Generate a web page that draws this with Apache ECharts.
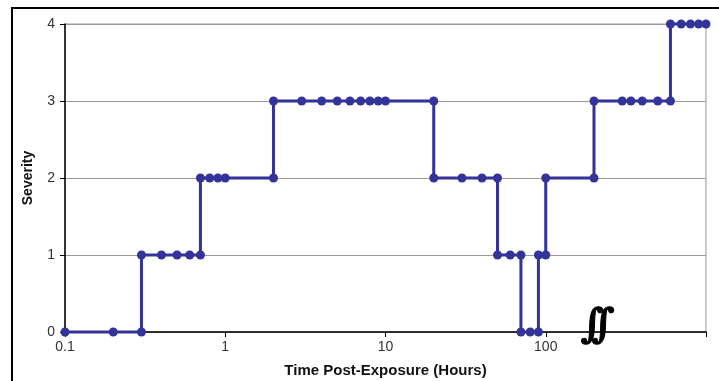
<!DOCTYPE html>
<html>
<head>
<meta charset="utf-8">
<script src="https://cdn.jsdelivr.net/npm/echarts@6/dist/echarts.min.js"></script>
<style>
  html, body { margin: 0; padding: 0; background: #fff; }
  #chart { width: 719px; height: 381px; }
</style>
</head>
<body>
<div id="chart"></div>
<script>
// Observation times (hours) and the severity score recorded at each time.
// Repeated times mark the instant the severity steps up or down.
const hours = [0.1, 0.2, 0.3, 0.3, 0.4, 0.5, 0.6, 0.7, 0.7, 0.8, 0.9, 1,
  2, 2, 3, 4, 5, 6, 7, 8, 9, 10, 20, 20, 30, 40, 50, 50, 60, 70, 70, 80,
  90, 90, 100, 100, 200, 200, 300, 340, 400, 500, 600, 600, 700, 800, 900, 1000];
const severity = [0, 0, 0, 1, 1, 1, 1, 1, 2, 2, 2, 2,
  2, 3, 3, 3, 3, 3, 3, 3, 3, 3, 3, 2, 2, 2, 2, 1, 1, 1, 0, 0,
  0, 1, 1, 2, 2, 3, 3, 3, 3, 3, 3, 4, 4, 4, 4, 4];
const severityTicks = [0, 1, 2, 3, 4];
const xTickLabels = { 0.1: '0.1', 1: '1', 10: '10', 100: '100' };

const points = hours.map((h, i) => [h, severity[i]]);

const chart = echarts.init(document.getElementById('chart'), null, { renderer: 'canvas' });
const font = 'Liberation Sans, Arial, sans-serif';

// Axis-break mark drawn as two bold integral glyphs on the time axis
const breakGlyph = (left) => ({
  type: 'text',
  left: left,
  top: 306,
  style: {
    text: '∫',
    font: 'bold 40px "DejaVu Serif", serif',
    fill: '#000',
    stroke: '#000',
    lineWidth: 1
  },
  z: 100
});

chart.setOption({
  animation: false,
  backgroundColor: '#fff',
  grid: {
    left: 65, right: 13, top: 24, bottom: 49,
    outerBoundsMode: 'none',
    containLabel: false,
    show: true, borderColor: '#9a9a9a', borderWidth: 1
  },
  xAxis: {
    type: 'log',
    logBase: 10,
    min: 0.1,
    max: 1000,
    name: 'Time Post-Exposure (Hours)',
    nameLocation: 'middle',
    nameGap: 31,
    nameTextStyle: { fontFamily: font, fontWeight: 'bold', fontSize: 15, color: '#111' },
    axisLine: { lineStyle: { color: '#000', width: 1.5 } },
    axisTick: { show: true, length: 5, inside: false, lineStyle: { color: '#000' } },
    splitLine: { show: false },
    minorTick: { show: false },
    axisLabel: {
      fontFamily: font, fontSize: 14, color: '#333', margin: 8,
      formatter: v => {
        const key = Math.round(Math.log10(v) * 1000) / 1000;
        return xTickLabels[Math.pow(10, key).toPrecision(3) * 1] || '';
      }
    }
  },
  yAxis: {
    type: 'value',
    min: 0,
    max: 4,
    interval: 1,
    name: 'Severity',
    nameLocation: 'middle',
    nameGap: 30,
    nameTextStyle: { fontFamily: font, fontWeight: 'bold', fontSize: 14, color: '#111' },
    axisLine: { show: true, lineStyle: { color: '#000', width: 1.5 } },
    axisTick: { show: true, length: 5, lineStyle: { color: '#000' } },
    splitLine: { show: true, lineStyle: { color: '#9a9a9a', width: 1.2 } },
    axisLabel: {
      fontFamily: font, fontSize: 14, color: '#333', margin: 10,
      formatter: v => severityTicks.includes(v) ? String(v) : ''
    }
  },
  series: [{
    type: 'line',
    data: points,
    symbol: 'circle',
    symbolSize: 9,
    lineStyle: { color: '#333399', width: 3 },
    itemStyle: { color: '#333399' },
    clip: false
  }],
  graphic: [
    {
      type: 'rect',
      shape: { x: 12, y: 8, width: 720, height: 400 },
      style: { fill: 'none', stroke: '#000', lineWidth: 2 },
      silent: true, z: 100
    },
    breakGlyph(580),
    breakGlyph(591)
  ]
});
</script>
</body>
</html>
